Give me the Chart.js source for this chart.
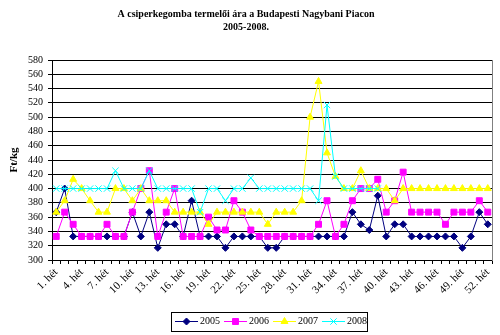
<!DOCTYPE html>
<html><head><meta charset="utf-8">
<script src="https://cdn.jsdelivr.net/npm/chart.js@4.4.1/dist/chart.umd.min.js"></script>
<style>html,body{margin:0;padding:0;background:#fff;overflow:hidden}canvas{display:block}</style>
</head><body>
<canvas id="c" width="500" height="335"></canvas>
<script>
const weeks = ["1. hét","2. hét","3. hét","4. hét","5. hét","6. hét","7. hét","8. hét","9. hét","10. hét",
"11. hét","12. hét","13. hét","14. hét","15. hét","16. hét","17. hét","18. hét","19. hét","20. hét",
"21. hét","22. hét","23. hét","24. hét","25. hét","26. hét","27. hét","28. hét","29. hét","30. hét",
"31. hét","32. hét","33. hét","34. hét","35. hét","36. hét","37. hét","38. hét","39. hét","40. hét",
"41. hét","42. hét","43. hét","44. hét","45. hét","46. hét","47. hét","48. hét","49. hét","50. hét",
"51. hét","52. hét"];

const y2005 = [367,400,333,333,333,333,333,333,333,367,
333,367,317,350,350,333,383,333,333,333,
317,333,333,333,333,317,317,333,333,333,
333,333,333,333,333,367,350,342,390,333,
350,350,333,333,333,333,333,333,317,333,367,350];

const y2006 = [333,367,350,333,333,333,350,333,333,367,
400,425,333,367,400,333,333,333,360,342,
342,383,367,342,333,333,333,333,333,333,
333,350,383,333,350,383,400,400,413,367,
383,423,367,367,367,367,350,367,367,367,383,367];

const y2007 = [367,383,413,400,383,367,367,400,400,383,
400,383,383,383,367,367,367,367,350,367,
367,367,367,367,367,350,367,367,367,383,
500,550,450,417,400,400,425,400,400,400,
383,400,400,400,400,400,400,400,400,400,400,400];

const y2008 = [400,400,400,400,400,400,400,425,400,400,
400,425,400,400,400,400,400,367,400,400,
383,400,400,415,400,400,400,400,400,400,
400,383,517,417,400,400,400,400,400,
null,null,null,null,null,null,null,null,null,null,null,null,null];

const seriesNames = ["2005","2006","2007","2008"];
const titleLines = ["A csiperkegomba termelői ára a Budapesti Nagybani Piacon","2005-2008."];
const yAxisTitle = "Ft/kg";
const yMin = 300, yMax = 580, yStep = 20;

const FONT = "'Liberation Serif', 'Times New Roman', serif";

function drawMarker(ctx, style, x, y, r, color) {
  ctx.save();
  ctx.fillStyle = color; ctx.strokeStyle = color; ctx.lineWidth = 1;
  ctx.beginPath();
  if (style === 'rectRot') {
    ctx.moveTo(x - r, y); ctx.lineTo(x, y - r); ctx.lineTo(x + r, y); ctx.lineTo(x, y + r); ctx.closePath();
    ctx.fill(); ctx.stroke();
  } else if (style === 'rect') {
    const s = Math.SQRT1_2 * r;
    ctx.rect(x - s, y - s, 2 * s, 2 * s); ctx.fill(); ctx.stroke();
  } else if (style === 'triangle') {
    let a = 0;
    ctx.moveTo(x + Math.sin(a) * r, y - Math.cos(a) * r);
    a += 2 * Math.PI / 3;
    ctx.lineTo(x + Math.sin(a) * r, y - Math.cos(a) * r);
    a += 2 * Math.PI / 3;
    ctx.lineTo(x + Math.sin(a) * r, y - Math.cos(a) * r);
    ctx.closePath(); ctx.fill(); ctx.stroke();
  } else if (style === 'crossRot') {
    const d = Math.SQRT1_2 * r;
    ctx.moveTo(x - d, y - d); ctx.lineTo(x + d, y + d);
    ctx.moveTo(x + d, y - d); ctx.lineTo(x - d, y + d);
    ctx.stroke();
  }
  ctx.restore();
}

const extrasPlugin = {
  id: 'extras',
  afterDraw(chart) {
    const ctx = chart.ctx;
    const a = chart.chartArea;
    ctx.save();
    ctx.strokeStyle = '#808080'; ctx.lineWidth = 1;
    ctx.beginPath();
    ctx.moveTo(Math.round(a.right) + 0.5, Math.round(a.top));
    ctx.lineTo(Math.round(a.right) + 0.5, Math.round(a.bottom) + 1);
    ctx.stroke();
    ctx.restore();
    const boxL = 171, boxT = 312, boxW = 196, boxH = 19, stride = 49;
    ctx.save();
    ctx.strokeStyle = '#000'; ctx.lineWidth = 1;
    ctx.strokeRect(boxL + 0.5, boxT + 0.5, boxW, boxH);
    const ly = 321.5;
    chart.data.datasets.forEach((ds, i) => {
      const x0 = 175 + i * stride;
      ctx.strokeStyle = ds.borderColor; ctx.lineWidth = 1;
      ctx.beginPath(); ctx.moveTo(x0, ly); ctx.lineTo(x0 + 23, ly); ctx.stroke();
      drawMarker(ctx, ds.pointStyle, x0 + 11.5, ly, ds.pointRadius, ds.pointBackgroundColor);
      ctx.fillStyle = '#000';
      ctx.font = '10px ' + FONT;
      ctx.textBaseline = 'middle'; ctx.textAlign = 'left';
      ctx.fillText(ds.label, x0 + 25, ly);
    });
    ctx.restore();
  }
};

function mk(label, data, color, style, r, order) {
  return {
    label, data,
    borderColor: color, backgroundColor: color,
    pointBackgroundColor: color, pointBorderColor: color,
    borderWidth: 1, pointBorderWidth: 1,
    pointStyle: style, pointRadius: r, pointHoverRadius: r,
    tension: 0, fill: false, spanGaps: false, order
  };
}

new Chart(document.getElementById('c'), {
  type: 'line',
  data: {
    labels: weeks,
    datasets: [
      mk(seriesNames[0], y2005, '#000080', 'rectRot', 3.5, 4),
      mk(seriesNames[1], y2006, '#FF00FF', 'rect', 4.2, 3),
      mk(seriesNames[2], y2007, '#FFFF00', 'triangle', 4, 2),
      mk(seriesNames[3], y2008, '#00FFFF', 'crossRot', 4.5, 1)
    ]
  },
  options: {
    responsive: false, animation: false, devicePixelRatio: 1,
    layout: { padding: { left: 0, right: 8, top: 0, bottom: 0 } },
    plugins: {
      legend: { display: false },
      tooltip: { enabled: false },
      title: {
        display: true, text: titleLines, color: '#000',
        font: { family: FONT, size: 10, weight: 'bold', lineHeight: 1.3 },
        padding: { top: 8, bottom: 26 }
      }
    },
    scales: {
      x: {
        type: 'category', offset: true,
        grid: { display: true, drawOnChartArea: false, drawTicks: true, tickLength: 4, color: '#000', offset: true },
        border: { display: true, color: '#000', width: 1 },
        ticks: {
          autoSkip: false, maxRotation: 45, minRotation: 45, padding: 2, color: '#000',
          font: { family: FONT, size: 11 },
          callback: (v, i) => (i % 3 === 0 ? weeks[i] : '')
        },
        afterFit: s => { s.height = 75; }
      },
      y: {
        min: yMin, max: yMax,
        ticks: { stepSize: yStep, autoSkip: false, color: '#000', padding: 5, font: { family: FONT, size: 10 } },
        grid: { color: '#000', tickLength: 4, drawTicks: true },
        border: { color: '#000' },
        title: { display: true, text: yAxisTitle, color: '#000', font: { family: FONT, size: 11, weight: 'bold' }, padding: { top: 8, bottom: 0 } },
        afterFit: s => { s.width = 52; }
      }
    }
  },
  plugins: [extrasPlugin]
});
</script>
</body></html>
